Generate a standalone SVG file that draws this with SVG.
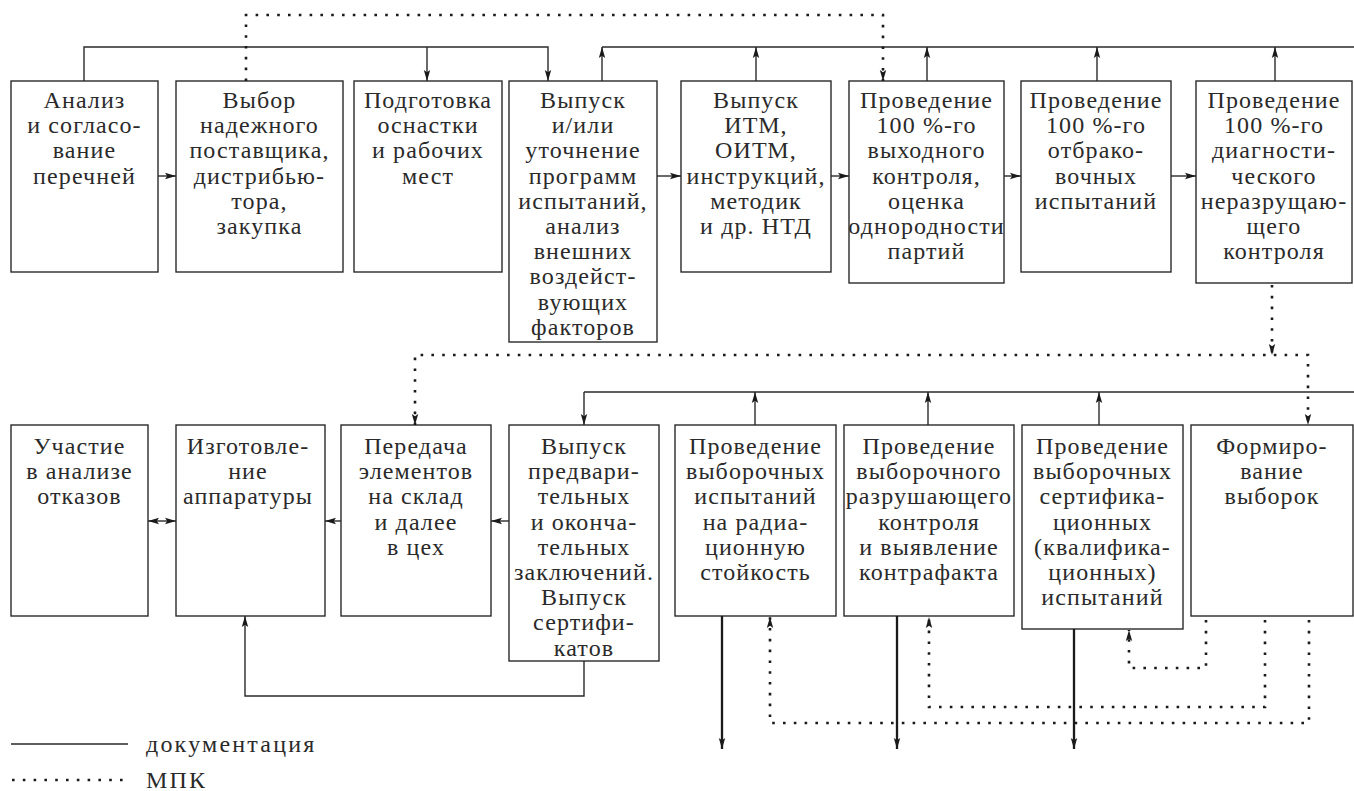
<svg xmlns="http://www.w3.org/2000/svg" width="1354" height="791" viewBox="0 0 1354 791">
<style>
.box{fill:#fff;stroke:#2a2a2a;stroke-width:1.4}
.tx{font-family:'Liberation Serif','Times New Roman',serif;font-size:24px;fill:#2a2a2a;text-anchor:middle;letter-spacing:1.1px}
.leg{text-anchor:start;letter-spacing:2.2px}
.s{fill:none;stroke:#2a2a2a;stroke-width:1.4}
.t{fill:none;stroke:#1a1a1a;stroke-width:2.3}
.d{fill:none;stroke:#1a1a1a;stroke-width:2.6;stroke-dasharray:2.6 8.2}
.a{marker-end:url(#ah)}
.b{marker-start:url(#ah);marker-end:url(#ah)}
</style>
<defs>
<marker id="ah" markerUnits="userSpaceOnUse" markerWidth="12" markerHeight="8" refX="11" refY="3.5" orient="auto-start-reverse" viewBox="0 0 12 7">
<path d="M0,0.3 L11,3.5 L0,6.7 L2.2,3.5 z" fill="#1a1a1a"/>
</marker>
</defs>

<g id="n1"><rect class="box" x="11" y="81" width="147" height="191"/>
<text class="tx" x="84.5" y="108"><tspan x="84.5">Анализ</tspan><tspan x="84.5" dy="25.2">и согласо-</tspan><tspan x="84.5" dy="25.2">вание</tspan><tspan x="84.5" dy="25.2">перечней</tspan></text></g>

<g id="n2"><rect class="box" x="176" y="81" width="167" height="191"/>
<text class="tx" x="259.5" y="108"><tspan x="259.5">Выбор</tspan><tspan x="259.5" dy="25.2">надежного</tspan><tspan x="259.5" dy="25.2">поставщика,</tspan><tspan x="259.5" dy="25.2">дистрибью-</tspan><tspan x="259.5" dy="25.2">тора,</tspan><tspan x="259.5" dy="25.2">закупка</tspan></text></g>

<g id="n3"><rect class="box" x="354" y="81" width="148" height="191"/>
<text class="tx" x="428" y="108"><tspan x="428">Подготовка</tspan><tspan x="428" dy="25.2">оснастки</tspan><tspan x="428" dy="25.2">и рабочих</tspan><tspan x="428" dy="25.2">мест</tspan></text></g>

<g id="n4"><rect class="box" x="509" y="81" width="148" height="261"/>
<text class="tx" x="583" y="108"><tspan x="583">Выпуск</tspan><tspan x="583" dy="25.2">и/или</tspan><tspan x="583" dy="25.2">уточнение</tspan><tspan x="583" dy="25.2">программ</tspan><tspan x="583" dy="25.2">испытаний,</tspan><tspan x="583" dy="25.2">анализ</tspan><tspan x="583" dy="25.2">внешних</tspan><tspan x="583" dy="25.2">воздейст-</tspan><tspan x="583" dy="25.2">вующих</tspan><tspan x="583" dy="25.2">факторов</tspan></text></g>

<g id="n5"><rect class="box" x="681" y="81" width="150" height="191"/>
<text class="tx" x="756" y="108"><tspan x="756">Выпуск</tspan><tspan x="756" dy="25.2">ИТМ,</tspan><tspan x="756" dy="25.2">ОИТМ,</tspan><tspan x="756" dy="25.2">инструкций,</tspan><tspan x="756" dy="25.2">методик</tspan><tspan x="756" dy="25.2">и др. НТД</tspan></text></g>

<g id="n6"><rect class="box" x="849" y="81" width="155" height="202"/>
<text class="tx" x="926.5" y="108"><tspan x="926.5">Проведение</tspan><tspan x="926.5" dy="25.2">100 %-го</tspan><tspan x="926.5" dy="25.2">выходного</tspan><tspan x="926.5" dy="25.2">контроля,</tspan><tspan x="926.5" dy="25.2">оценка</tspan><tspan x="926.5" dy="25.2">однородности</tspan><tspan x="926.5" dy="25.2">партий</tspan></text></g>

<g id="n7"><rect class="box" x="1021" y="81" width="150" height="191"/>
<text class="tx" x="1096" y="108"><tspan x="1096">Проведение</tspan><tspan x="1096" dy="25.2">100 %-го</tspan><tspan x="1096" dy="25.2">отбрако-</tspan><tspan x="1096" dy="25.2">вочных</tspan><tspan x="1096" dy="25.2">испытаний</tspan></text></g>

<g id="n8"><rect class="box" x="1196" y="81" width="156" height="202"/>
<text class="tx" x="1274" y="108"><tspan x="1274">Проведение</tspan><tspan x="1274" dy="25.2">100 %-го</tspan><tspan x="1274" dy="25.2">диагности-</tspan><tspan x="1274" dy="25.2">ческого</tspan><tspan x="1274" dy="25.2">неразрущаю-</tspan><tspan x="1274" dy="25.2">щего</tspan><tspan x="1274" dy="25.2">контроля</tspan></text></g>

<g id="m1"><rect class="box" x="11" y="425" width="137" height="191"/>
<text class="tx" x="79.5" y="454"><tspan x="79.5">Участие</tspan><tspan x="79.5" dy="25.2">в анализе</tspan><tspan x="79.5" dy="25.2">отказов</tspan></text></g>

<g id="m2"><rect class="box" x="176" y="425" width="149" height="191"/>
<text class="tx" x="248" y="454"><tspan x="248">Изготовле-</tspan><tspan x="248" dy="25.2">ние</tspan><tspan x="248" dy="25.2">аппаратуры</tspan></text></g>

<g id="m3"><rect class="box" x="341" y="425" width="150" height="191"/>
<text class="tx" x="416" y="454"><tspan x="416">Передача</tspan><tspan x="416" dy="25.2">элементов</tspan><tspan x="416" dy="25.2">на склад</tspan><tspan x="416" dy="25.2">и далее</tspan><tspan x="416" dy="25.2">в цех</tspan></text></g>

<g id="m4"><rect class="box" x="509" y="425" width="150" height="236"/>
<text class="tx" x="584" y="454"><tspan x="584">Выпуск</tspan><tspan x="584" dy="25.2">предвари-</tspan><tspan x="584" dy="25.2">тельных</tspan><tspan x="584" dy="25.2">и оконча-</tspan><tspan x="584" dy="25.2">тельных</tspan><tspan x="584" dy="25.2">заключений.</tspan><tspan x="584" dy="25.2">Выпуск</tspan><tspan x="584" dy="25.2">сертифи-</tspan><tspan x="584" dy="25.2">катов</tspan></text></g>

<g id="m5"><rect class="box" x="675" y="425" width="161" height="191"/>
<text class="tx" x="755.5" y="454"><tspan x="755.5">Проведение</tspan><tspan x="755.5" dy="25.2">выборочных</tspan><tspan x="755.5" dy="25.2">испытаний</tspan><tspan x="755.5" dy="25.2">на радиа-</tspan><tspan x="755.5" dy="25.2">ционную</tspan><tspan x="755.5" dy="25.2">стойкость</tspan></text></g>

<g id="m6"><rect class="box" x="844" y="425" width="170" height="191"/>
<text class="tx" x="929" y="454"><tspan x="929">Проведение</tspan><tspan x="929" dy="25.2">выборочного</tspan><tspan x="929" dy="25.2">разрушающего</tspan><tspan x="929" dy="25.2">контроля</tspan><tspan x="929" dy="25.2">и выявление</tspan><tspan x="929" dy="25.2">контрафакта</tspan></text></g>

<g id="m7"><rect class="box" x="1022" y="425" width="161" height="204"/>
<text class="tx" x="1102.5" y="454"><tspan x="1102.5">Проведение</tspan><tspan x="1102.5" dy="25.2">выборочных</tspan><tspan x="1102.5" dy="25.2">сертифика-</tspan><tspan x="1102.5" dy="25.2">ционных</tspan><tspan x="1102.5" dy="25.2">(квалифика-</tspan><tspan x="1102.5" dy="25.2">ционных)</tspan><tspan x="1102.5" dy="25.2">испытаний</tspan></text></g>

<g id="m8"><rect class="box" x="1191" y="425" width="162" height="191"/>
<text class="tx" x="1272" y="454"><tspan x="1272">Формиро-</tspan><tspan x="1272" dy="25.2">вание</tspan><tspan x="1272" dy="25.2">выборок</tspan></text></g>

<g id="connectors">
<path class="s a" d="M84,81 V47 H548 V81"/>
<path class="s a" d="M427,47 V81"/>
<path class="s" d="M602,47 H1354"/>
<path class="s a" d="M602,81 V47"/>
<path class="s a" d="M756,81 V47"/>
<path class="s a" d="M927,81 V47"/>
<path class="s a" d="M1097,81 V47"/>
<path class="s a" d="M1275,81 V47"/>
<path class="s a" d="M158,176 H176"/>
<path class="s a" d="M657,176 H681"/>
<path class="s a" d="M831,176 H849"/>
<path class="s a" d="M1004,176 H1021"/>
<path class="s a" d="M1171,176 H1196"/>
<path class="d a" d="M246,81 V15 H883 V81"/>
<path class="d a" d="M1272,285 V355"/>
<path class="d b" d="M415,425 V355 H1308 V425"/>
<path class="s a" d="M584,392 H1354 M584,392 V425"/>
<path class="s a" d="M755,425 V392"/>
<path class="s a" d="M928,425 V392"/>
<path class="s a" d="M1099,425 V392"/>
<path class="s b" d="M148,521 H176"/>
<path class="s a" d="M341,521 H325"/>
<path class="s a" d="M509,521 H491"/>
<path class="s a" d="M584,661 V696 H245 V616"/>
<path class="t a" d="M722,616 V749"/>
<path class="t a" d="M897,616 V749"/>
<path class="t a" d="M1074,629 V749"/>
<path class="d a" d="M1309,620 V723 H770 V617"/>
<path class="d a" d="M1265,620 V707 H929 V617"/>
<path class="d a" d="M1206,620 V668 H1129 V630"/>
</g>

<g id="legend">
<path class="s" d="M11,744 H128"/>
<text class="tx leg" x="146" y="752">документация</text>
<path class="d" d="M12,780 H128"/>
<text class="tx leg" x="146" y="788">МПК</text>
</g>
</svg>
